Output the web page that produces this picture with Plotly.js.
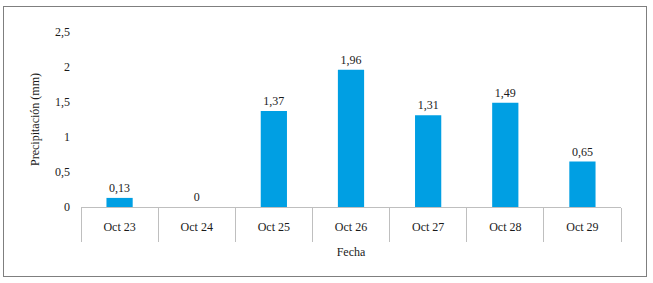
<!DOCTYPE html>
<html>
<head>
<meta charset="utf-8">
<script src="https://cdn.plot.ly/plotly-3.0.1.min.js"></script>
<style>
  html, body { margin: 0; padding: 0; background: #fff; }
  #wrap { position: relative; width: 653px; height: 283px; }
  #chart { position: absolute; left: 0; top: 0; width: 653px; height: 283px; }
  #frame { position: absolute; left: 3px; top: 6px; width: 642px; height: 269px;
           border: 1px solid #7f7f7f; pointer-events: none; }
</style>
</head>
<body>
<div id="wrap">
  <div id="chart"></div>
  <div id="frame"></div>
</div>
<script>
const categories = ["Oct 23", "Oct 24", "Oct 25", "Oct 26", "Oct 27", "Oct 28", "Oct 29"];
const precipitation = [0.13, 0, 1.37, 1.96, 1.31, 1.49, 0.65];
const yTickValues = [0, 0.5, 1, 1.5, 2, 2.5];
const xTitle = "Fecha";
const yTitle = "Precipitación (mm)";

const labels = precipitation.map(v => String(v).replace('.', ','));
const FONT = "'Liberation Serif', 'Times New Roman', serif";
const TXT = "#1a1a1a";

const trace = {
  type: 'bar',
  x: categories,
  y: precipitation,
  text: labels,
  textposition: 'outside',
  textfont: { family: FONT, size: 12, color: TXT },
  cliponaxis: false,
  marker: { color: '#009FE3' },
  hoverinfo: 'none'
};

const layout = {
  width: 653,
  height: 283,
  margin: { l: 81, r: 32, t: 32, b: 76 },
  paper_bgcolor: '#ffffff',
  plot_bgcolor: '#ffffff',
  separators: ',.',
  bargap: 0.66,
  showlegend: false,
  font: { family: FONT, size: 12, color: TXT },
  xaxis: {
    type: 'category',
    showline: true,
    linecolor: '#bfbfbf',
    linewidth: 1,
    ticks: 'outside',
    tickson: 'boundaries',
    ticklen: 34,
    tickcolor: '#bfbfbf',
    tickwidth: 1,
    ticklabelstandoff: 9,
    tickfont: { family: FONT, size: 12, color: TXT },
    showgrid: false,
    zeroline: false,
    title: { text: xTitle, font: { family: FONT, size: 12, color: TXT }, standoff: 14 },
    fixedrange: true
  },
  yaxis: {
    range: [0, 2.5],
    tickvals: yTickValues,
    showgrid: false,
    zeroline: false,
    showline: false,
    ticks: '',
    ticklabelstandoff: 10,
    tickfont: { family: FONT, size: 12, color: TXT },
    title: { text: yTitle, font: { family: FONT, size: 12, color: TXT }, standoff: 12 },
    fixedrange: true
  }
};

Plotly.newPlot('chart', [trace], layout, { staticPlot: true, displayModeBar: false });
</script>
</body>
</html>
